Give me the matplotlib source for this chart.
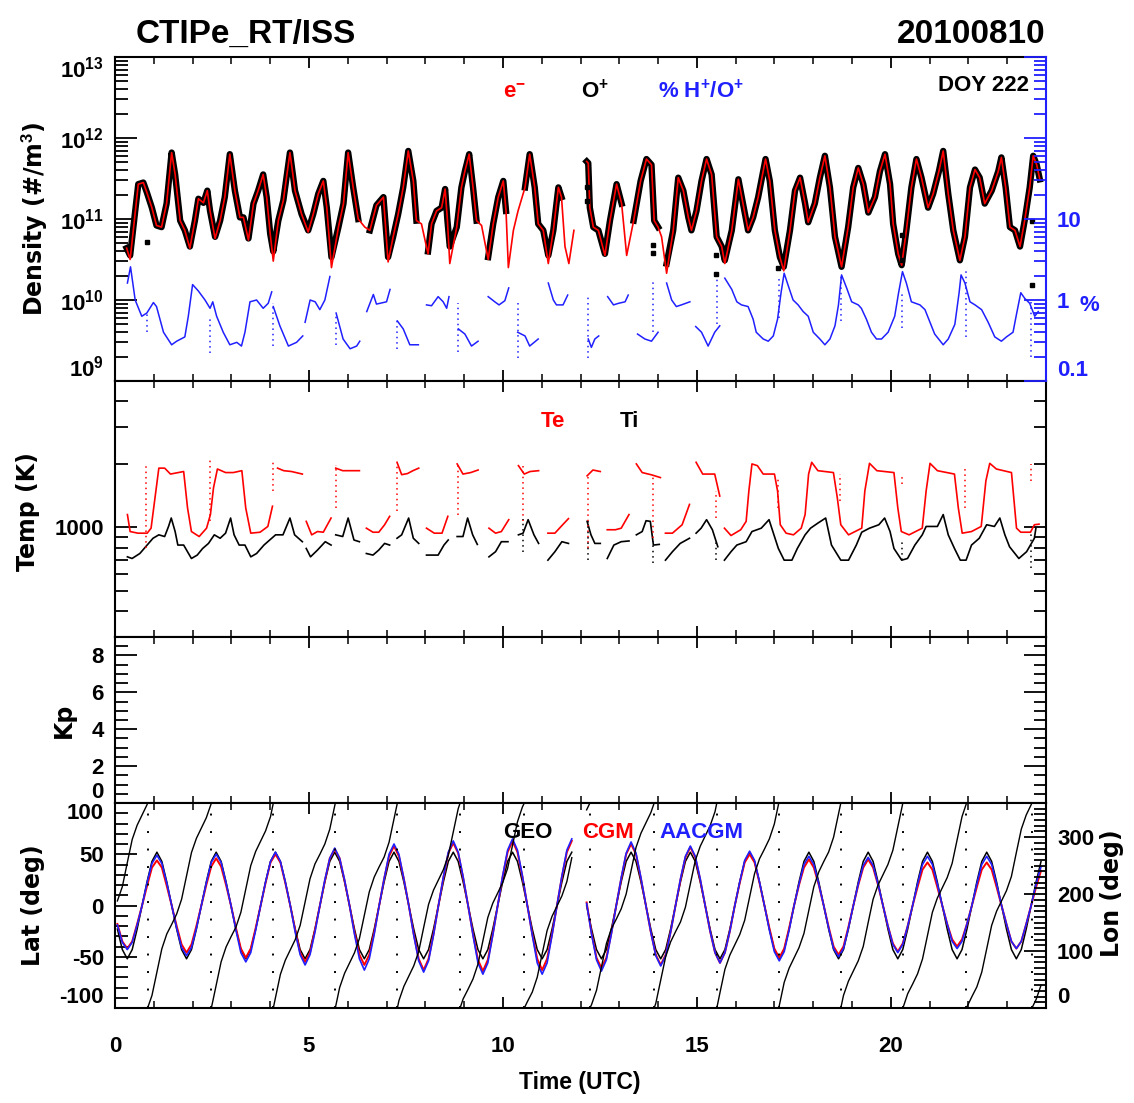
import numpy as np
import matplotlib
matplotlib.use("Agg")
import matplotlib.pyplot as plt
from matplotlib import font_manager
from matplotlib.ticker import FixedLocator, FixedFormatter, NullFormatter

nan = np.nan

# ---------------------------------------------------------------------------
# ISS along-track values, 2010-08-10 (DOY 222), UT hours
# ---------------------------------------------------------------------------

# (UT, log10 electron density, log10 O+ density)  [#/m^3]
dens_pts = [
    (0.30, 10.64, 10.64), (0.39, 10.50, 10.55), (0.60, 11.43, 11.43), (0.73, 11.45, 11.45),
    (0.82, 11.33, 11.33), (0.95, 11.14, 11.14), (1.07, 10.92, 10.92), (1.20, 10.90, 10.90),
    (1.33, 11.19, 11.19), (1.46, 11.82, 11.82), (1.55, 11.55, 11.55), (1.68, 10.98, 10.98),
    (1.80, 10.86, 10.86), (1.93, 10.64, 10.66), (2.06, 10.98, 10.98), (2.15, 11.25, 11.25),
    (2.28, 11.20, 11.20), (2.38, 11.35, 11.35), (2.45, 11.10, 11.10), (2.58, 10.76, 10.78),
    (2.71, 10.98, 10.98), (2.83, 11.27, 11.27), (2.96, 11.80, 11.80), (3.09, 11.35, 11.35),
    (3.22, 11.02, 11.02), (3.31, 11.02, 11.02), (3.44, 10.74, 10.76), (3.57, 11.19, 11.19),
    (3.69, 11.35, 11.35), (3.82, 11.55, 11.55), (3.91, 11.27, 11.27), (4.00, 10.82, 10.82),
    (4.08, 10.48, 10.60), (4.21, 10.98, 10.98), (4.34, 11.23, 11.23), (4.51, 11.82, 11.82),
    (4.64, 11.35, 11.35), (4.81, 11.06, 11.06), (4.98, 10.84, 10.86), (5.11, 11.06, 11.06),
    (5.24, 11.31, 11.31), (5.37, 11.47, 11.47), (5.46, 11.14, 11.14), (5.58, 10.40, 10.53),
    (5.76, 10.90, 10.90), (5.89, 11.19, 11.19), (6.01, 11.82, 11.82), (6.14, 11.39, 11.39),
    (6.27, 11.00, 11.00), (6.44, 10.90, nan), (6.57, 10.86, 10.86), (6.74, 11.17, 11.17),
    (6.92, 11.27, 11.27), (7.04, 10.47, 10.53), (7.17, 10.78, 10.78), (7.30, 11.06, 11.06),
    (7.43, 11.39, 11.39), (7.56, 11.84, 11.84), (7.69, 11.47, 11.47), (7.77, 10.98, 10.98),
    (7.90, 10.94, nan), (8.07, 10.57, 10.60), (8.16, 10.94, 10.94), (8.29, 11.10, 11.10),
    (8.42, 11.14, 11.14), (8.51, 11.37, 11.37), (8.57, 10.98, 10.98), (8.63, 10.45, 10.66),
    (8.81, 10.90, 10.90), (8.93, 11.39, 11.39), (9.02, 11.59, 11.59), (9.13, 11.80, 11.80),
    (9.23, 11.39, 11.39), (9.32, 10.98, 10.98), (9.45, 10.92, nan), (9.62, 10.50, 10.53),
    (9.75, 10.94, 10.94), (9.88, 11.27, 11.27), (10.01, 11.47, 11.47), (10.08, 11.10, 11.10),
    (10.14, 10.40, nan), (10.27, 10.86, nan), (10.39, 11.10, nan), (10.57, 11.39, 11.39),
    (10.69, 11.80, 11.80), (10.82, 11.39, 11.39), (10.91, 10.94, 10.94), (11.04, 10.86, 10.86),
    (11.17, 10.45, 10.55), (11.30, 10.86, 10.86), (11.43, 11.39, 11.39), (11.51, 11.27, 11.27),
    (11.60, 10.66, nan), (11.70, 10.45, nan), (11.83, 10.86, nan),
    (nan, nan, nan),
    (12.16, 11.71, 11.71), (12.20, 11.69, 11.69), (12.24, 11.14, 11.14), (12.33, 10.90, 10.90),
    (12.46, 10.86, 10.86), (12.63, 10.55, 10.57), (12.76, 10.98, 10.98), (12.93, 11.43, 11.43),
    (13.06, 11.19, 11.19), (13.19, 10.55, nan), (13.37, 10.98, 10.98), (13.55, 11.47, 11.47),
    (13.70, 11.74, 11.74), (13.83, 11.67, 11.67), (13.90, 10.98, 10.98), (14.00, 10.90, 10.90),
    (14.09, 10.78, nan), (14.22, 10.33, 10.45), (14.39, 10.86, 10.86), (14.52, 11.51, 11.51),
    (14.65, 11.35, 11.35), (14.78, 11.02, 11.02), (14.86, 10.86, 10.86), (14.99, 11.10, 11.10),
    (15.12, 11.47, 11.47), (15.25, 11.74, 11.74), (15.38, 11.55, 11.55), (15.51, 10.78, 10.78),
    (15.64, 10.66, 10.66), (15.72, 10.45, 10.49), (15.90, 10.86, 10.86), (16.07, 11.49, 11.49),
    (16.19, 11.19, 11.19), (16.32, 10.86, 10.86), (16.45, 11.02, 11.02), (16.58, 11.27, 11.27),
    (16.77, 11.74, 11.74), (16.88, 11.47, 11.47), (17.01, 10.86, 10.86), (17.14, 10.53, 10.53),
    (17.24, 10.36, 10.41), (17.40, 10.86, 10.86), (17.53, 11.35, 11.35), (17.66, 11.51, 11.51),
    (17.79, 11.19, 11.19), (17.87, 10.96, 10.96), (18.04, 11.19, 11.19), (18.17, 11.51, 11.51),
    (18.30, 11.78, 11.78), (18.43, 11.39, 11.39), (18.56, 10.78, 10.78), (18.73, 10.41, 10.41),
    (18.90, 10.90, 10.90), (19.03, 11.39, 11.39), (19.16, 11.63, 11.63), (19.29, 11.43, 11.43),
    (19.42, 11.08, 11.08), (19.59, 11.27, 11.27), (19.72, 11.59, 11.59), (19.85, 11.80, 11.80),
    (19.98, 11.43, 11.43), (20.06, 10.94, 10.94), (20.19, 10.57, 10.57), (20.28, 10.43, 10.43),
    (20.40, 10.86, 10.86), (20.53, 11.39, 11.39), (20.66, 11.74, 11.74), (20.79, 11.51, 11.51),
    (20.96, 11.14, 11.14), (21.09, 11.31, 11.31), (21.24, 11.59, 11.59), (21.35, 11.84, 11.84),
    (21.48, 11.31, 11.31), (21.61, 10.86, 10.86), (21.78, 10.49, 10.49), (21.91, 10.78, 10.78),
    (22.04, 11.39, 11.39), (22.17, 11.61, 11.61), (22.29, 11.51, 11.51), (22.42, 11.19, 11.19),
    (22.60, 11.35, 11.35), (22.77, 11.59, 11.59), (22.85, 11.76, 11.76), (22.96, 11.39, 11.39),
    (23.07, 10.90, 10.90), (23.20, 10.86, 10.86), (23.33, 10.66, 10.66), (23.45, 10.98, 10.98),
    (23.58, 11.39, 11.39), (23.67, 11.78, 11.78), (23.76, 11.67, 11.67), (23.84, 11.49, 11.49),
]

# isolated O+ samples away from the main trace (UT, log10 density)
op_isolated = [
    (0.83, 10.72), (12.17, 11.40), (12.17, 11.22), (13.88, 10.68), (13.88, 10.58),
    (15.49, 10.55), (15.49, 10.32), (17.10, 10.40), (20.28, 10.80), (20.28, 10.50),
    (23.64, 10.98), (23.64, 10.19),
]

# H+/O+ ratio in percent (UT, %)
hratio_pts = [
    (0.32, 1.62), (0.40, 2.57), (0.52, 1.00), (0.69, 0.63), (0.82, 0.69), (0.99, 0.93),
    (1.07, 0.83), (1.25, 0.40), (1.46, 0.28), (1.59, 0.31), (1.80, 0.35), (1.89, 0.63),
    (2.00, 1.55), (2.15, 1.29), (2.32, 1.00), (2.45, 0.79), (2.52, 0.95), (2.62, 0.63),
    (2.79, 0.40), (2.96, 0.28), (3.14, 0.30), (3.26, 0.27), (3.35, 0.40), (3.48, 0.95),
    (3.65, 1.00), (3.82, 0.79), (3.95, 0.91), (4.04, 1.26), (nan, nan),
    (4.08, 0.83), (4.25, 0.48), (4.47, 0.27), (4.68, 0.30), (4.84, 0.36), (nan, nan),
    (4.90, 0.53), (5.03, 1.00), (5.16, 0.95), (5.28, 0.76), (5.41, 1.00), (5.54, 1.95), (nan, nan),
    (5.70, 0.69), (5.88, 0.33), (6.06, 0.25), (6.23, 0.27), (6.31, 0.31), (nan, nan),
    (6.49, 0.72), (6.66, 1.17), (6.74, 0.89), (7.00, 0.95), (7.09, 1.35), (nan, nan),
    (7.28, 0.55), (7.43, 0.44), (7.60, 0.28), (7.82, 0.28), (nan, nan),
    (8.03, 0.87), (8.16, 0.85), (8.33, 1.10), (8.46, 0.95), (8.55, 0.79), (8.61, 1.10), (nan, nan),
    (8.85, 0.44), (9.02, 0.38), (9.19, 0.27), (9.36, 0.31), (nan, nan),
    (9.62, 1.10), (9.79, 0.95), (9.90, 0.87), (10.05, 0.98), (10.15, 1.41), (nan, nan),
    (10.38, 0.40), (10.57, 0.36), (10.69, 0.27), (10.91, 0.33), (nan, nan),
    (11.17, 1.62), (11.30, 1.00), (11.38, 0.87), (11.55, 0.87), (11.67, 1.15), (nan, nan),
    (12.20, 0.33), (12.28, 0.26), (12.37, 0.33), (12.47, 0.36), (nan, nan),
    (12.70, 1.10), (12.85, 0.87), (12.98, 0.91), (13.15, 0.95), (13.23, 1.15), (nan, nan),
    (13.47, 0.38), (13.66, 0.33), (13.83, 0.31), (14.00, 0.40), (nan, nan),
    (14.22, 1.62), (14.35, 1.00), (14.47, 0.83), (14.60, 0.87), (14.82, 0.95), (nan, nan),
    (14.97, 0.47), (15.12, 0.40), (15.29, 0.27), (15.46, 0.40), (15.59, 0.48), (nan, nan),
    (15.72, 1.86), (15.90, 1.35), (16.03, 0.95), (16.15, 0.87), (16.32, 0.83), (16.45, 0.58),
    (16.53, 0.40), (16.71, 0.33), (16.84, 0.31), (16.97, 0.36), (17.08, 0.58), (17.17, 1.23),
    (17.25, 2.14), (17.36, 1.48), (17.48, 1.00), (17.61, 0.87), (17.74, 0.72), (17.87, 0.63),
    (18.00, 0.40), (18.17, 0.33), (18.30, 0.28), (18.43, 0.33), (18.56, 0.48), (18.65, 0.87),
    (18.73, 2.04), (18.86, 1.41), (18.99, 0.95), (19.16, 0.87), (19.24, 0.79), (19.37, 0.58),
    (19.50, 0.40), (19.63, 0.33), (19.76, 0.33), (19.93, 0.40), (20.10, 0.63), (20.20, 1.23),
    (20.30, 2.24), (20.40, 1.62), (20.53, 0.95), (20.75, 0.87), (20.88, 0.76), (21.01, 0.53),
    (21.13, 0.38), (21.35, 0.28), (21.48, 0.33), (21.65, 0.50), (21.76, 1.23), (21.81, 2.04),
    (21.91, 1.62), (22.04, 0.95), (22.17, 0.87), (22.34, 0.76), (22.51, 0.53), (22.68, 0.35),
    (22.85, 0.31), (22.98, 0.35), (23.15, 0.40), (23.24, 0.67), (23.35, 1.23), (23.45, 1.05),
    (23.58, 0.91), (23.71, 0.63), (23.80, 0.72),
]

# dotted H+/O+ excursions at data-segment boundaries (UT, low %, high %)
hratio_drops = [
    (0.82, 0.40, 0.69), (2.45, 0.22, 0.58), (4.08, 0.27, 0.91), (5.70, 0.28, 0.69),
    (7.28, 0.25, 0.58), (8.85, 0.23, 0.91), (10.38, 0.19, 0.91), (12.19, 0.19, 1.20),
    (13.88, 0.40, 1.80), (15.52, 0.50, 2.00), (17.12, 0.60, 1.90), (18.72, 0.55, 2.10),
    (20.30, 0.45, 1.30), (21.94, 0.35, 2.30), (23.62, 0.20, 1.00),
]

# electron temperature (UT, K)
te_pts = [
    (0.32, 1152), (0.39, 956), (0.59, 939), (0.83, 939), (0.93, 992), (1.03, 1386),
    (1.13, 1919), (1.28, 1919), (1.43, 1798), (1.77, 1849), (1.87, 1239), (1.97, 956),
    (2.17, 905), (2.36, 992), (2.46, 1152), (2.54, 1549), (2.64, 1901), (2.85, 1828),
    (3.05, 1828), (3.27, 1866), (3.37, 1239), (3.50, 939), (3.74, 949), (3.94, 1011),
    (4.06, 1263), (nan, nan),
    (4.19, 1919), (4.35, 1866), (4.55, 1849), (4.83, 1798), (nan, nan),
    (4.93, 1069), (5.07, 922), (5.22, 956), (5.37, 949), (5.57, 1109), (nan, nan),
    (5.69, 1919), (5.87, 1866), (6.02, 1866), (6.30, 1866), (nan, nan),
    (6.48, 992), (6.65, 949), (6.80, 949), (6.95, 1030), (7.08, 1130), (nan, nan),
    (7.27, 2046), (7.39, 1786), (7.54, 1808), (7.68, 1866), (7.83, 1919), (nan, nan),
    (8.03, 992), (8.23, 939), (8.43, 939), (8.58, 1130), (nan, nan),
    (8.82, 2010), (8.97, 1798), (9.17, 1828), (9.36, 1880), (nan, nan),
    (9.64, 992), (9.81, 939), (9.96, 956), (10.15, 1089), (nan, nan),
    (10.40, 1972), (10.55, 1798), (10.70, 1849), (10.92, 1866), (nan, nan),
    (11.16, 939), (11.34, 939), (11.54, 1030), (11.69, 1102), (nan, nan),
    (12.17, 1763), (12.32, 1880), (12.51, 1849), (nan, nan),
    (12.69, 975), (12.90, 975), (13.05, 992), (13.25, 1152), (nan, nan),
    (13.44, 2010), (13.59, 1828), (13.83, 1783), (14.06, 1730), (nan, nan),
    (14.19, 939), (14.37, 939), (14.62, 1030), (14.81, 1288), (nan, nan),
    (14.98, 2046), (15.15, 1798), (15.46, 1798), (15.59, 1412), (nan, nan),
    (15.71, 992), (15.88, 915), (16.13, 975), (16.27, 1069), (16.34, 1493), (16.42, 2010),
    (16.56, 1972), (16.71, 1798), (17.00, 1798), (17.08, 1493), (17.15, 1030), (17.30, 939),
    (17.49, 922), (17.69, 992), (17.79, 1152), (17.88, 1798), (17.96, 2046), (18.12, 1866),
    (18.52, 1828), (18.62, 1386), (18.71, 1030), (18.91, 922), (19.25, 992), (19.33, 1493),
    (19.45, 2023), (19.64, 1866), (20.08, 1828), (20.18, 1239), (20.27, 956), (20.47, 922),
    (20.81, 992), (20.91, 1493), (21.01, 2023), (21.20, 1866), (21.64, 1798), (21.74, 1239),
    (21.84, 939), (22.08, 956), (22.33, 1011), (22.45, 1667), (22.55, 2023), (22.72, 1901),
    (23.11, 1828), (23.24, 992), (23.35, 949), (23.60, 949), (23.70, 1030), (23.82, 1037),
]

# ion temperature (UT, K)
ti_pts = [
    (0.32, 724), (0.44, 711), (0.64, 751), (0.83, 824), (0.98, 888), (1.13, 922),
    (1.28, 905), (1.38, 1011), (1.45, 1109), (1.55, 956), (1.62, 824), (1.77, 824),
    (1.97, 711), (2.12, 738), (2.26, 794), (2.41, 839), (2.56, 922), (2.71, 888),
    (2.85, 939), (2.98, 1109), (3.07, 922), (3.20, 824), (3.35, 824), (3.50, 724),
    (3.65, 751), (3.84, 824), (3.99, 871), (4.14, 922), (4.33, 922), (4.51, 1109),
    (4.63, 922), (4.83, 855), (nan, nan),
    (4.93, 794), (5.04, 724), (5.22, 780), (5.42, 855), (5.57, 824), (nan, nan),
    (5.69, 922), (5.87, 905), (6.01, 1109), (6.16, 871), (6.30, 855), (nan, nan),
    (6.48, 751), (6.65, 738), (6.80, 780), (6.95, 839), (7.08, 824), (nan, nan),
    (7.27, 888), (7.39, 922), (7.57, 1109), (7.69, 888), (7.83, 839), (nan, nan),
    (8.03, 738), (8.33, 738), (8.48, 824), (8.59, 871), (nan, nan),
    (8.82, 905), (8.97, 905), (9.09, 1109), (9.22, 922), (9.34, 830), (nan, nan),
    (9.64, 724), (9.81, 766), (9.96, 855), (10.13, 855), (nan, nan),
    (10.40, 922), (10.52, 939), (10.65, 1089), (10.80, 922), (10.92, 839), (nan, nan),
    (11.16, 698), (11.34, 766), (11.52, 855), (11.69, 839), (nan, nan),
    (12.17, 1069), (12.27, 922), (12.37, 839), (12.51, 839), (nan, nan),
    (12.69, 711), (12.86, 824), (13.05, 855), (13.25, 862), (nan, nan),
    (13.44, 922), (13.59, 956), (13.69, 1077), (13.80, 1069), (13.88, 824), (14.03, 830), (nan, nan),
    (14.19, 698), (14.37, 766), (14.57, 839), (14.81, 888), (nan, nan),
    (14.98, 939), (15.11, 992), (15.25, 1089), (15.40, 975), (15.54, 809), (nan, nan),
    (15.71, 698), (15.88, 766), (16.03, 824), (16.27, 855), (16.42, 956), (16.66, 992),
    (16.86, 1089), (16.96, 956), (17.10, 794), (17.25, 698), (17.45, 698), (17.59, 794),
    (17.79, 922), (17.93, 992), (18.12, 1049), (18.32, 1109), (18.47, 824), (18.71, 698),
    (18.91, 698), (19.11, 824), (19.25, 949), (19.45, 992), (19.69, 1030), (19.84, 1109),
    (19.98, 956), (20.08, 794), (20.28, 698), (20.43, 711), (20.62, 824), (20.81, 922),
    (20.91, 1011), (21.20, 1011), (21.35, 1152), (21.48, 922), (21.64, 794), (21.79, 698),
    (21.94, 698), (22.08, 824), (22.28, 888), (22.47, 1030), (22.67, 1011), (22.81, 1109),
    (22.94, 922), (23.06, 809), (23.30, 711), (23.50, 766), (23.70, 888), (23.74, 992),
]

# dotted temperature excursions at segment boundaries (UT, low K, high K)
te_drops = [
    (0.81, 794, 2010), (2.46, 1069, 2163), (4.08, 1493, 2046), (5.69, 1239, 1990),
    (7.28, 1196, 1990), (8.85, 1152, 2010), (10.52, 1069, 1972), (12.19, 794, 1798),
    (13.88, 888, 1763), (15.50, 1109, 1493), (17.10, 1239, 1730), (18.70, 1337, 1798),
    (20.28, 1607, 1798), (21.90, 1239, 1940), (23.62, 1667, 2010),
]
ti_drops = [
    (10.52, 760, 1100), (12.19, 698, 1069), (13.88, 680, 860), (15.50, 698, 870),
    (20.28, 698, 860), (23.62, 640, 950),
]

# orbit samples: first sample time and spacing (UT hours), 12 samples per orbit
orbit_t0 = 0.0615
orbit_step = 0.12733

geo_lat = [
    -23, -43, -52, -43, -23, 0, 23, 43, 52, 43, 23, 0,
    -23, -43, -52, -43, -23, 0, 23, 43, 52, 43, 23, 0,
    -23, -43, -52, -43, -23, 0, 23, 43, 52, 43, 23, 0,
    -23, -43, -52, -43, -23, 0, 23, 43, 52, 43, 23, 0,
    -23, -43, -52, -43, -23, 0, 23, 43, 52, 43, 23, 0,
    -23, -43, -52, -43, -23, 0, 23, 43, 52, 43, 23, 0,
    -23, -43, -52, -43, -23, 0, 23, 43, 52, 43, 23, 0,
    -23, -43, -52, -43, -23, 0, 23, 43, 52, nan, nan, 0,
    -23, -43, -52, -43, -23, 0, 23, 43, 52, 43, 23, 0,
    -23, -43, -52, -43, -23, 0, 23, 43, 52, 43, 23, 0,
    -23, -43, -52, -43, -23, 0, 23, 43, 52, 43, 23, 0,
    -23, -43, -52, -43, -23, 0, 23, 43, 52, 43, 23, 0,
    -23, -43, -52, -43, -23, 0, 23, 43, 52, 43, 23, 0,
    -23, -43, -52, -43, -23, 0, 23, 43, 52, 43, 23, 0,
    -23, -43, -52, -43, -23, 0, 23, 43, 52, 43, 23, 0,
    -23, -43, -52, -43, -23, 0, 23, 43,
]

cgm_lat = [
    -18, -35, -42, -35, -18, 0, 19, 37, 44, 37, 19, 0,
    -20, -38, -46, -38, -20, 0, 20, 38, 46, 38, 20, 0,
    -22, -42, -51, -42, -22, 0, 22, 42, 50, 42, 22, 0,
    -24, -46, -55, -46, -24, 0, 24, 46, 55, 46, 24, 0,
    -26, -48, -58, -48, -26, 0, 26, 48, 58, 48, 26, 0,
    -28, -52, -63, -52, -28, 0, 27, 51, 61, 51, 27, 0,
    -28, -53, -64, -53, -28, 0, 28, 52, 63, 52, 28, 0,
    -28, -52, -63, -52, -28, 0, 28, 52, 63, nan, nan, 3,
    -27, -51, -61, -51, -27, 0, 26, 50, 60, 50, 26, 0,
    -26, -48, -58, -48, -26, 0, 25, 47, 57, 47, 25, 0,
    -25, -46, -56, -46, -25, 0, 22, 42, 50, 42, 22, 0,
    -22, -42, -51, -42, -22, 0, 20, 37, 45, 37, 20, 0,
    -21, -40, -48, -40, -21, 0, 20, 37, 45, 37, 20, 0,
    -20, -37, -45, -37, -20, 0, 18, 35, 42, 35, 18, 0,
    -18, -33, -40, -33, -18, 0, 18, 35, 42, 35, 18, 0,
    -18, -35, -42, -35, -18, 0, 18, 34,
]

aacgm_lat = [
    -19, -36, -43, -36, -19, 0, 22, 41, 49, 41, 22, 0,
    -22, -41, -49, -41, -22, 0, 22, 42, 50, 42, 22, 0,
    -24, -46, -55, -46, -24, 0, 23, 43, 52, 43, 23, 0,
    -26, -48, -58, -48, -26, 0, 25, 46, 56, 46, 25, 0,
    -28, -52, -63, -52, -28, 0, 26, 50, 60, 50, 26, 0,
    -29, -54, -65, -54, -29, 0, 28, 52, 63, 52, 28, 0,
    -29, -56, -67, -56, -29, 0, 29, 54, 65, 54, 29, 0,
    -29, -56, -67, -56, -29, 0, 29, 54, 65, nan, nan, 2,
    -28, -53, -64, -53, -28, 0, 27, 51, 62, 51, 27, 0,
    -26, -49, -59, -49, -26, 0, 26, 48, 58, 48, 26, 0,
    -25, -46, -56, -46, -25, 0, 23, 44, 53, 44, 23, 0,
    -24, -45, -54, -45, -24, 0, 21, 40, 48, 40, 21, 0,
    -22, -42, -50, -42, -22, 0, 21, 39, 47, 39, 21, 0,
    -20, -38, -46, -38, -20, 0, 21, 40, 48, 40, 21, 0,
    -18, -35, -42, -35, -18, 0, 21, 40, 48, 40, 21, 0,
    -18, -35, -42, -35, -18, 0, 21, 38,
]

geo_lon = [
    188, 213, 255, 296, 321, 339, 357, 22, 63, 104, 130, 147,
    165, 191, 232, 273, 298, 316, 334, 359, 40, 81, 107, 125,
    142, 168, 209, 250, 275, 293, 311, 336, 18, 59, 84, 102,
    120, 145, 186, 227, 253, 270, 288, 314, 355, 36, 61, 79,
    97, 122, 163, 204, 230, 248, 265, 291, 332, 13, 38, 56,
    74, 99, 141, 182, 207, 225, 243, 268, 309, 350, 16, 33,
    51, 77, 118, 159, 184, 202, 220, 245, 286, 327, 353, 11,
    28, 54, 95, 136, 161, 179, 197, 222, 264, nan, nan, 348,
    6, 31, 72, 113, 139, 156, 174, 200, 241, 282, 307, 325,
    343, 8, 49, 90, 116, 134, 151, 177, 218, 259, 284, 302,
    320, 345, 27, 68, 93, 111, 129, 154, 195, 236, 262, 279,
    297, 323, 4, 45, 70, 88, 106, 131, 172, 213, 239, 257,
    274, 300, 341, 22, 47, 65, 83, 108, 150, 191, 216, 234,
    252, 277, 318, 359, 25, 42, 60, 86, 127, 168, 193, 211,
    229, 254, 295, 336, 2, 20, 37, 63, 104, 145, 170, 188,
    206, 231, 273, 314, 339, 357, 15, 40,
]

# UT of the 360 -> 0 longitude wrap
lon_wrap_t = [0.84, 2.47, 4.08, 5.68, 7.28, 8.90, 10.55, 12.25, 13.90, 15.51,
              17.11, 18.71, 20.31, 21.94, 23.64]

# ---------------------------------------------------------------------------
# fonts and style
# ---------------------------------------------------------------------------
installed = {f.name for f in font_manager.fontManager.ttflist}
SANS = "Liberation Sans" if "Liberation Sans" in installed else "DejaVu Sans"
NARROW = "Liberation Sans Narrow" if "Liberation Sans Narrow" in installed else SANS
TITLE_SIZE = 28 if NARROW != SANS else 24

plt.rcParams.update({
    "font.family": [SANS, "DejaVu Sans"],
    "font.weight": "bold",
    "axes.unicode_minus": False,
    "mathtext.fontset": "custom",
    "mathtext.rm": f"{SANS}:bold",
    "mathtext.it": f"{SANS}:bold",
    "mathtext.bf": f"{SANS}:bold",
    "mathtext.sf": f"{SANS}:bold",
    "mathtext.default": "rm",
})

RED = "#ff0000"
BLUE = "#2020ff"
TICK_FS = 16
W_PX, H_PX = 1134, 1103
X0, X1 = 115, 1046

fig = plt.figure(figsize=(W_PX / 100, H_PX / 100), dpi=100)
fig.patch.set_facecolor("white")


def panel(top, bottom):
    return fig.add_axes([X0 / W_PX, 1 - bottom / H_PX, (X1 - X0) / W_PX, (bottom - top) / H_PX])


def fig_text(x, y, s, **kw):
    return fig.text(x / W_PX, 1 - y / H_PX, s, **kw)


ax1 = panel(57, 381)
ax2 = panel(381, 637)
ax3 = panel(637, 803)
ax4 = panel(803, 1008)

for ax in (ax1, ax2, ax3, ax4):
    ax.set_xlim(0, 24)
    ax.xaxis.set_major_locator(FixedLocator([0, 5, 10, 15, 20]))
    ax.xaxis.set_minor_locator(FixedLocator(list(range(25))))
    ax.tick_params(axis="x", which="both", direction="in", top=True, bottom=True,
                   labelbottom=False)
    ax.tick_params(axis="x", which="major", length=8, width=1.3)
    ax.tick_params(axis="x", which="minor", length=5, width=1.1)
    for sp in ax.spines.values():
        sp.set_linewidth(1.5)


def style_y(ax):
    ax.tick_params(axis="y", which="both", direction="in", width=1.3)
    ax.tick_params(axis="y", which="major", length=16, labelsize=TICK_FS, pad=8)
    ax.tick_params(axis="y", which="minor", length=9)


def edge_labels(axis, low=True, high=False):
    ticks = axis.get_major_ticks()
    if low:
        ticks[0].label1.set_va("bottom")
        ticks[0].label2.set_va("bottom")
    if high:
        ticks[-1].label1.set_va("top")
        ticks[-1].label2.set_va("top")


ax4.tick_params(axis="x", labelbottom=True, labelsize=TICK_FS, pad=20)

# ---- density panel -------------------------------------------------------
d = np.array(dens_pts, dtype=float)
ax1.set_yscale("log")
ax1.set_ylim(1e9, 1e13)
ax1.plot(d[:, 0], 10 ** d[:, 2], color="black", lw=4.6)
ax1.plot(d[:, 0], 10 ** d[:, 1], color=RED, lw=1.2)
oi = np.array(op_isolated, dtype=float)
ax1.plot(oi[:, 0], 10 ** oi[:, 1], ls="none", marker="s", ms=3.2, color="black")

ax1.yaxis.set_major_locator(FixedLocator([1e9, 1e10, 1e11, 1e12, 1e13]))
ax1.yaxis.set_major_formatter(FixedFormatter(
    [r"$10^{9}$", r"$10^{10}$", r"$10^{11}$", r"$10^{12}$", r"$10^{13}$"]))
ax1.yaxis.set_minor_locator(FixedLocator([m * 10.0 ** e for e in range(9, 13) for m in range(2, 10)]))
ax1.yaxis.set_minor_formatter(NullFormatter())
style_y(ax1)
ax1.tick_params(axis="y", which="both", left=True, right=False)
ax1.spines["right"].set_visible(False)
edge_labels(ax1.yaxis, low=True, high=True)

ax1r = ax1.twinx()
ax1r.set_yscale("log")
ax1r.set_ylim(0.1, 1000)
h = np.array(hratio_pts, dtype=float)
ax1r.plot(h[:, 0], h[:, 1], color=BLUE, lw=1.1)
hd = np.array(hratio_drops, dtype=float)
ax1r.vlines(hd[:, 0], hd[:, 1], hd[:, 2], colors=BLUE, linestyles=(0, (1, 2.5)), lw=1.1)
ax1r.yaxis.set_major_locator(FixedLocator([0.1, 1, 10, 100, 1000]))
ax1r.yaxis.set_major_formatter(FixedFormatter(["0.1", "1", "10", "", ""]))
ax1r.yaxis.set_minor_locator(FixedLocator([m * 10.0 ** e for e in range(-1, 3) for m in range(2, 10)]))
ax1r.yaxis.set_minor_formatter(NullFormatter())
style_y(ax1r)
ax1r.tick_params(axis="y", which="both", colors=BLUE, right=True, left=False)
for s in ("left", "top", "bottom"):
    ax1r.spines[s].set_visible(False)
ax1r.spines["right"].set_color(BLUE)
ax1r.spines["right"].set_linewidth(1.5)
edge_labels(ax1r.yaxis, low=True)
fig_text(1080, 311, "%", color=BLUE, fontsize=TICK_FS, ha="left", va="baseline")

fig_text(503, 98, r"e$^{-}$", color=RED, fontsize=16, ha="left", va="baseline")
fig_text(581, 98, r"O$^{+}$", color="black", fontsize=16, ha="left", va="baseline")
fig_text(658, 98, r"% H$^{+}$/O$^{+}$", color=BLUE, fontsize=16, ha="left", va="baseline")
fig_text(938, 91, "DOY 222", color="black", fontsize=16, ha="left", va="baseline")

# ---- temperature panel ---------------------------------------------------
ax2.set_yscale("log")
ax2.set_ylim(300, 5000)
te = np.array(te_pts, dtype=float)
ti = np.array(ti_pts, dtype=float)
ax2.plot(ti[:, 0], ti[:, 1], color="black", lw=1.2)
ax2.plot(te[:, 0], te[:, 1], color=RED, lw=1.2)
ted = np.array(te_drops, dtype=float)
ax2.vlines(ted[:, 0], ted[:, 1], ted[:, 2], colors=RED, linestyles=(0, (1, 2.5)), lw=1.1)
tid = np.array(ti_drops, dtype=float)
ax2.vlines(tid[:, 0], tid[:, 1], tid[:, 2], colors="black", linestyles=(0, (1, 2.5)), lw=1.1)
ax2.yaxis.set_major_locator(FixedLocator([1000]))
ax2.yaxis.set_major_formatter(FixedFormatter(["1000"]))
ax2.yaxis.set_minor_locator(FixedLocator([400, 500, 600, 700, 800, 900, 2000, 3000, 4000]))
ax2.yaxis.set_minor_formatter(NullFormatter())
style_y(ax2)
ax2.tick_params(axis="y", which="both", left=True, right=True)
fig_text(541, 427, "Te", color=RED, fontsize=16, ha="left", va="baseline")
fig_text(620, 427, "Ti", color="black", fontsize=16, ha="left", va="baseline")

# ---- Kp panel --------------------------------------------------------------
ax3.set_ylim(0, 9)
ax3.yaxis.set_major_locator(FixedLocator([0, 2, 4, 6, 8]))
ax3.yaxis.set_major_formatter(FixedFormatter(["0", "2", "4", "6", "8"]))
ax3.yaxis.set_minor_locator(FixedLocator([v / 2 for v in range(1, 18)]))
style_y(ax3)
ax3.tick_params(axis="y", which="both", left=True, right=True)
edge_labels(ax3.yaxis, low=True)

# ---- latitude / longitude panel -----------------------------------------
lat_t = orbit_t0 + orbit_step * np.arange(len(geo_lat))
ax4.set_ylim(-100, 100)
ax4.plot(lat_t, geo_lat, color="black", lw=1.1)
ax4.plot(lat_t, cgm_lat, color=RED, lw=1.4)
ax4.plot(lat_t, aacgm_lat, color=BLUE, lw=1.2)
ax4.vlines(lon_wrap_t, -100, 100, colors="black", linestyles=(0, (1, 8)), lw=1.4)
ax4.yaxis.set_major_locator(FixedLocator([-100, -50, 0, 50, 100]))
ax4.yaxis.set_major_formatter(FixedFormatter(["-100", "-50", "0", "50", "100"]))
ax4.yaxis.set_minor_locator(FixedLocator(list(range(-90, 100, 10))))
style_y(ax4)
ax4.tick_params(axis="y", which="both", left=True, right=False)
ax4.spines["right"].set_visible(False)
edge_labels(ax4.yaxis, low=True, high=True)

lon = np.array(geo_lon, dtype=float)
lon_cont = lon.copy()
offset, prev = 0.0, None
for i, v in enumerate(lon):
    if np.isnan(v):
        continue
    if prev is not None and v < prev - 180:
        offset += 360.0
    lon_cont[i] = v + offset
    prev = v

ax4r = ax4.twinx()
ax4r.set_ylim(0, 360)
for m in range(int(np.nanmax(lon_cont) // 360) + 2):
    ax4r.plot(lat_t, lon_cont - 360 * m, color="black", lw=1.0)
ax4r.yaxis.set_major_locator(FixedLocator([0, 100, 200, 300]))
ax4r.yaxis.set_major_formatter(FixedFormatter(["0", "100", "200", "300"]))
ax4r.yaxis.set_minor_locator(FixedLocator(list(range(0, 361, 10))))
style_y(ax4r)
ax4r.tick_params(axis="y", which="both", right=True, left=False)
for s in ("left", "top", "bottom"):
    ax4r.spines[s].set_visible(False)
ax4r.spines["right"].set_linewidth(1.5)
edge_labels(ax4r.yaxis, low=True)

fig_text(503, 838, "GEO", color="black", fontsize=16, ha="left", va="baseline")
fig_text(582, 838, "CGM", color=RED, fontsize=16, ha="left", va="baseline")
fig_text(659, 838, "AACGM", color=BLUE, fontsize=16, ha="left", va="baseline")

# ---- titles and axis labels ---------------------------------------------
fig_text(136, 43, "CTIPe_RT/ISS", family=[NARROW, "DejaVu Sans"], fontsize=TITLE_SIZE,
         weight="bold", ha="left", va="baseline")
fig_text(1046, 43, "20100810", family=[NARROW, "DejaVu Sans"], fontsize=TITLE_SIZE,
         weight="bold", ha="right", va="baseline")

LAB = dict(family="DejaVu Sans", weight="bold", fontsize=17, rotation=90,
           ha="center", va="center")
fig_text(35, 219, "Density (#/m$^3$)", **LAB)
fig_text(28, 512, "Temp (K)", **LAB)
fig_text(64, 720, "Kp", **LAB)
fig_text(33, 905, "Lat (deg)", **LAB)
fig_text(1112, 893, "Lon (deg)", **LAB)
fig_text(580, 1083, "Time (UTC)", fontsize=16.5, weight="bold", ha="center", va="center")

fig.savefig("out.png", dpi=100, facecolor="white")
